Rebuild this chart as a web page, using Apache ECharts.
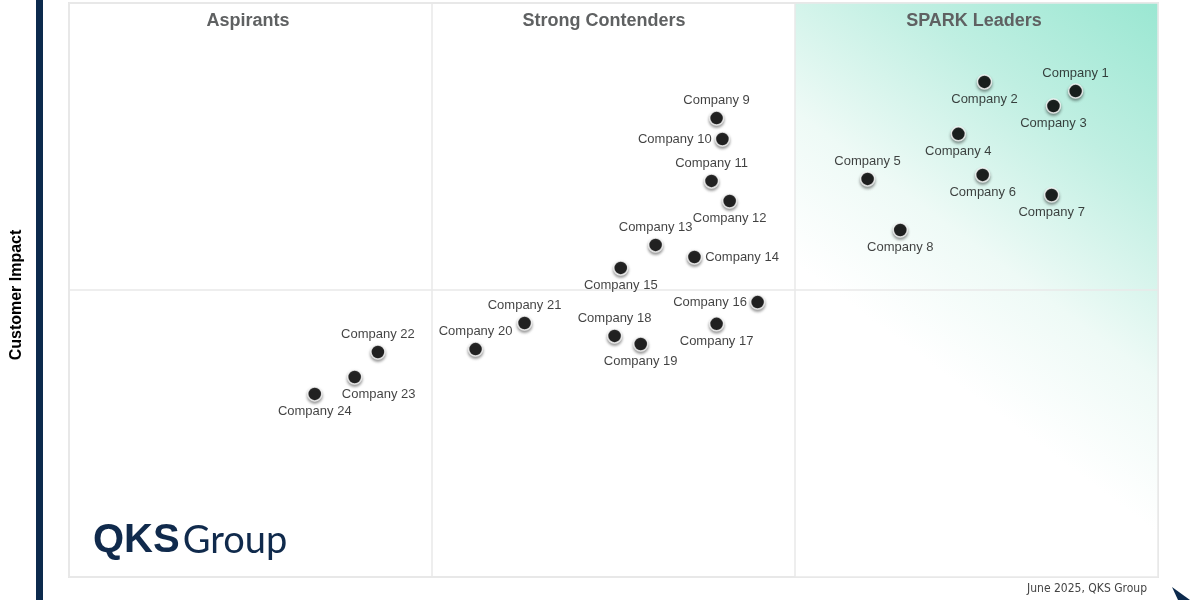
<!DOCTYPE html>
<html>
<head>
<meta charset="utf-8">
<script src="https://cdn.jsdelivr.net/npm/echarts@6/dist/echarts.min.js"></script>
<style>html,body{margin:0;padding:0;background:#fff;}#c{width:1200px;height:600px;}</style>
</head>
<body>
<div id="c"></div>
<script>
// ---- data ----
const companies = ['Company 1','Company 2','Company 3','Company 4','Company 5','Company 6','Company 7','Company 8',
  'Company 9','Company 10','Company 11','Company 12','Company 13','Company 14','Company 15','Company 16',
  'Company 17','Company 18','Company 19','Company 20','Company 21','Company 22','Company 23','Company 24'];
const xValues = [277.3,252.2,271.2,245.0,220.0,251.7,270.7,229.0,
  178.4,180.0,177.0,182.0,161.6,172.3,152.0,189.7,
  178.4,150.3,157.5,112.0,125.5,85.1,78.7,67.7];
const yValues = [169.3,172.5,164.1,154.4,138.7,140.1,133.1,120.9,
  159.9,152.6,138.0,131.0,115.7,111.5,107.7,95.8,
  88.2,84.0,81.2,79.4,88.5,78.4,69.7,63.8];
const quadrantTitles = ['Aspirants','Strong Contenders','SPARK Leaders'];
const yAxisTitle = 'Customer Impact';
const footnote = 'June 2025, QKS Group';

// label placement (style)
const labelPlacement = ['top','bottom','bottom','bottom','top','bottom','bottom','bottom',
  'top','left','top','bottom','top','right','bottom','left',
  'bottom','top','bottom','top','top','top','bottom','bottom'];
const labelShift = {22:[24,0]};

const chart = echarts.init(document.getElementById('c'), null, {renderer:'canvas'});
const FONT = "'Liberation Sans', Arial, sans-serif";

const points = companies.map((n,i)=>({
  name:n, value:[xValues[i], yValues[i]],
  label:{position:labelPlacement[i], offset: labelShift[i] || [0,0]}
}));

const colCenters = [251, 613, 977];

chart.setOption({
  animation:false,
  grid:{left:69,right:42,top:3,bottom:23,show:true,borderColor:'#e6e6e6',borderWidth:2,backgroundColor:'transparent'},
  xAxis:{type:'value',min:0,max:300,interval:100,z:5,
    axisLine:{show:false},axisTick:{show:false},axisLabel:{show:false},
    splitLine:{show:true,lineStyle:{color:'#e8e8e8',width:1.5}}},
  yAxis:{type:'value',min:0,max:200,interval:100,z:5,
    axisLine:{show:false},axisTick:{show:false},axisLabel:{show:false},
    splitLine:{show:true,lineStyle:{color:'#e8e8e8',width:1.5}}},
  series:[
    {type:'scatter',data:[],z:1,silent:true,
      markArea:{silent:true,
        itemStyle:{color:{type:'linear',x:1,y:0,x2:0,y2:0.85,colorStops:[
          {offset:0,color:'#9ae7d2'},
          {offset:0.25,color:'#c0efe2'},
          {offset:0.5,color:'#eefaf6'},
          {offset:0.7,color:'#ffffff'},
          {offset:1,color:'#ffffff'}]}},
        data:[[{coord:[200,0]},{coord:[300,200]}]]}},
    {type:'scatter',z:10,data:points,symbol:'circle',symbolSize:14,
      itemStyle:{color:'#000',borderColor:'#fff',borderWidth:1.5,
        shadowColor:'rgba(0,0,0,0.45)',shadowBlur:3,shadowOffsetY:2},
      label:{show:true,formatter:'{b}',color:'#111',fontSize:13,fontFamily:FONT,distance:3}}
  ],
  graphic:[
    {type:'rect',left:36,top:0,shape:{width:7,height:600},style:{fill:'#0c2a4d'},z:20},
    {type:'text',x:17,y:295,rotation:Math.PI/2,z:20,
      style:{text:yAxisTitle,font:"bold 16px "+FONT,fill:'#000',textAlign:'center',textVerticalAlign:'middle'}},
    ...quadrantTitles.map((t,i)=>({type:'text',x:colCenters[i]-(i===0?3:i===1?9:3),y:21,z:20,
      style:{text:t,font:"bold 18px "+FONT,fill:'#5f6162',textAlign:'center',textVerticalAlign:'middle'}})),
    {type:'text',x:93,y:541,z:20,
      style:{rich:{a:{font:"bold 40px "+FONT,fill:'#102a4c',textVerticalAlign:'middle'},
                   b:{font:"38px Lato, 'Open Sans', "+FONT,fill:'#102a4c',textVerticalAlign:'middle',padding:[0,0,0,3]}},
             text:'{a|QKS}{b|Group}',textVerticalAlign:'middle'}},
    {type:'text',x:1147,y:589,z:20,
      style:{text:footnote,font:"12px 'Liberation Sans Narrow', 'DejaVu Sans Condensed', "+FONT,fill:'#444',textAlign:'right',textVerticalAlign:'middle'}},
    {type:'polygon',z:20,shape:{points:[[1172,587],[1190,600],[1178,600]]},style:{fill:'#0c2a4d'}}
  ]
});
</script>
</body>
</html>
